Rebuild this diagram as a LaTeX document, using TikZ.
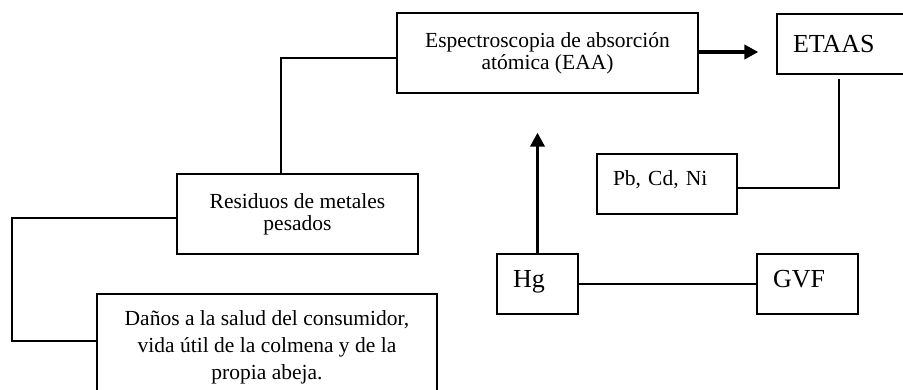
\documentclass[tikz,border=0pt]{standalone}
\usepackage{fontspec}
\setmainfont{Liberation Serif}
\usetikzlibrary{arrows.meta}
\begin{document}
\begin{tikzpicture}[x=1pt, y=-1pt,
    mybox/.style={draw, line width=1.2pt, align=center, inner sep=0pt, font=\fontsize{21.5}{22}\selectfont},
    mytag/.style={draw, line width=1.2pt, align=left, inner xsep=16pt, inner ysep=0pt, minimum height=60pt, font=\fontsize{26}{28}\selectfont},
    myline/.style={line width=1.2pt},
    myarrow/.style={line width=3.6pt, -{Triangle[length=14pt, width=14pt]}}]
    \useasboundingbox (0,0) rectangle (903,390);
    \node[mybox, minimum width=301pt, minimum height=80pt] (eaa) at (547.5,53) {Espectroscopia de absorción\\atómica (EAA)};
    \node[mytag, text width=97pt] (etaas) at (841.5,44) {ETAAS};
    \node[mybox, minimum width=241pt, minimum height=80pt] (res) at (297.5,214) {Residuos de metales\\pesados};
    \node[mytag, text width=108pt, text height=16pt, text depth=12pt, font=\fontsize{21.5}{22}\selectfont] (pb) at (667,184) {Pb, Cd, Ni};
    \node[mytag, text width=49pt, text height=18pt, text depth=10pt] (hg) at (537.5,284) {Hg};
    \node[mytag, text width=69pt, text height=18pt, text depth=10pt] (gvf) at (807.5,284) {GVF};
    \node[mybox, font=\fontsize{21.5}{27}\selectfont, minimum width=340pt, minimum height=106pt] (danos) at (267,347) {Daños a la salud del consumidor,\\vida útil de la colmena y de la\\propia abeja.};
    \coordinate (j1) at (281,58);
    \coordinate (j2) at (839,188);
    \coordinate (k1) at (12,218);
    \coordinate (k2) at (12,341);
    \draw[myline] (res.north -| j1) -- (j1) -- (eaa.west |- j1);
    \draw[myline] (res.west |- k1) -- (k1) -- (k2) -- (danos.west |- k2);
    \draw[myarrow, shorten >=18pt] ([yshift=1pt]eaa.east) -- ([yshift=1pt]eaa.east -| etaas.west);
    \draw[myarrow, shorten >=39pt] (hg.north) -- (hg.north |- eaa.south);
    \draw[myline, shorten <=4pt] (etaas.south -| j2) -- (j2) -- (pb.east |- j2);
    \draw[myline] (hg) -- (gvf);
\end{tikzpicture}
\end{document}
